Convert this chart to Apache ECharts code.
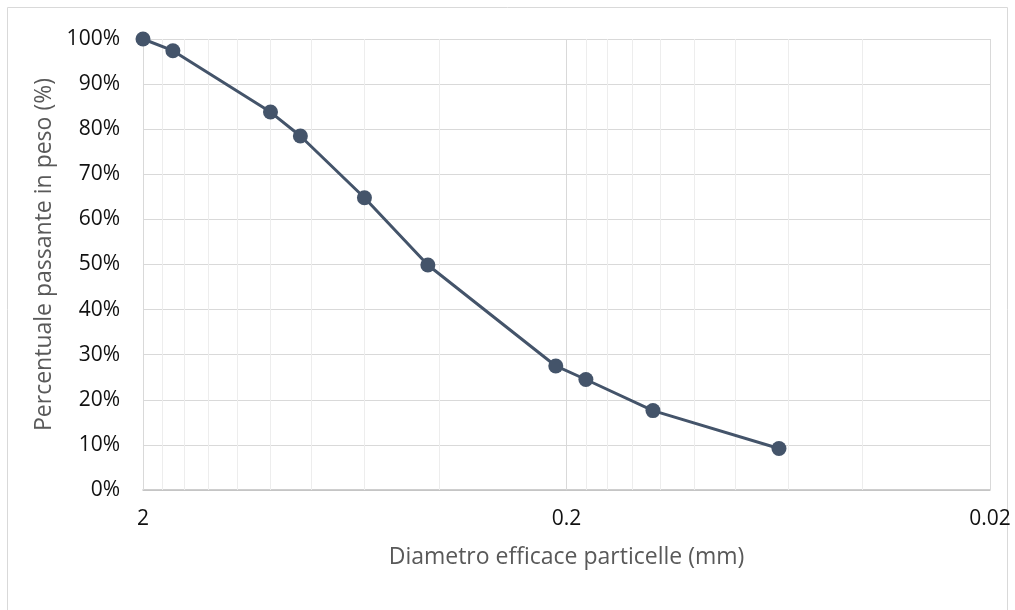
<!DOCTYPE html>
<html>
<head>
<meta charset="utf-8">
<script src="https://cdn.jsdelivr.net/npm/echarts@6/dist/echarts.min.js"></script>
<style>html,body{margin:0;padding:0;background:#fff}#c{width:1015px;height:610px}</style>
</head>
<body>
<div id="c"></div>
<script>
const diameters = [2, 1.7, 1.0, 0.85, 0.6, 0.425, 0.212, 0.18, 0.125, 0.063];
const passing = [100, 97.4, 83.8, 78.5, 64.8, 49.9, 27.5, 24.5, 17.6, 9.2];
const xTickLabels = [2, 0.2, 0.02];
const xMinorGrid = [1.8, 1.6, 1.4, 1.2, 1.0, 0.8, 0.6, 0.4, 0.18, 0.16, 0.14, 0.12, 0.1, 0.08, 0.06, 0.04];
const yTicks = [0, 10, 20, 30, 40, 50, 60, 70, 80, 90, 100];

const chart = echarts.init(document.getElementById('c'), null, {renderer: 'canvas'});
const font = 'Open Sans, Liberation Sans, sans-serif';
const minorLines = xMinorGrid.map(v => ({xAxis: v, lineStyle: {color: '#ededed', width: 1, type: 'solid'}}));
const majorLines = xTickLabels.map(v => ({xAxis: v, lineStyle: {color: '#d9d9d9', width: 1, type: 'solid'}}));

chart.setOption({
  animation: false,
  graphic: [{type: 'rect', shape: {x: 7.5, y: 7.5, width: 1000, height: 620}, style: {fill: 'none', stroke: '#d9d9d9', lineWidth: 1}, silent: true}],
  grid: {left: 143, right: 25, top: 39, bottom: 120, containLabel: false},
  xAxis: {
    type: 'log', logBase: 10, min: 0.02, max: 2, inverse: true,
    name: 'Diametro efficace particelle (mm)', nameLocation: 'middle', nameGap: 56,
    nameTextStyle: {color: '#595959', fontSize: 23, fontFamily: font},
    axisLine: {show: true, lineStyle: {color: '#bfbfbf', width: 1.5}},
    axisTick: {show: false},
    splitLine: {show: false},
    axisLabel: {customValues: xTickLabels, color: '#111', fontSize: 21, fontFamily: font, margin: 19,
      formatter: v => String(+v.toPrecision(3))}
  },
  yAxis: {
    type: 'value', min: 0, max: 100, interval: 10,
    name: 'Percentuale passante in peso (%)', nameLocation: 'middle', nameGap: 83,
    nameTextStyle: {color: '#595959', fontSize: 23, fontFamily: font, padding: [0, 0, 0, 20]},
    axisLine: {show: false}, axisTick: {show: false},
    splitLine: {show: true, lineStyle: {color: '#d9d9d9', width: 1}},
    axisLabel: {formatter: '{value}%', color: '#111', fontSize: 21, fontFamily: font, margin: 23}
  },
  series: [{
    type: 'line',
    data: diameters.map((d, i) => [d, passing[i]]),
    symbol: 'circle', symbolSize: 15,
    lineStyle: {color: '#44546a', width: 3},
    itemStyle: {color: '#44546a'},
    z: 5,
    markLine: {
      silent: true, symbol: 'none', label: {show: false}, animation: false, z: 1,
      data: minorLines.concat(majorLines)
    }
  }]
});
</script>
</body>
</html>
